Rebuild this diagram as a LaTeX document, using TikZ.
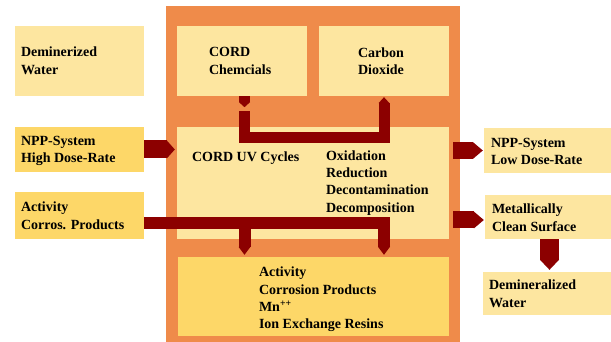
\documentclass[tikz,border=0pt]{standalone}
\usepackage{fontspec}
\setmainfont{Liberation Serif}
\usetikzlibrary{arrows.meta,positioning}

\definecolor{cordorange}{RGB}{239,139,74}
\definecolor{paleyellow}{RGB}{253,230,160}
\definecolor{deepyellow}{RGB}{253,215,104}
\definecolor{flowred}{RGB}{140,0,0}

\begin{document}
\begin{tikzpicture}[x=1pt,y=1pt,
  box/.style={fill=paleyellow,inner sep=0pt,minimum width=#1},
  hotbox/.style={box=#1,fill=deepyellow},
  lbl/.style={font=\fontsize{14}{17.3}\selectfont\bfseries,align=left,
    inner sep=0pt,anchor=north west},
  flow/.style={draw=flowred,line width=#1,line join=miter},
  headed/.style={-{Triangle[length=#1,width=0pt 1,line width=0pt]}}]
  \useasboundingbox (0,0) rectangle (611,342);
  % frame and boxes
  \node[fill=cordorange,inner sep=0pt,minimum width=294pt,minimum height=336pt] (frame) at (313,168) {};
  \node[box=129pt,minimum height=70pt] (dwL) at (79.5,281) {};
  \node[box=130pt,minimum height=70pt] (chem) at (242,281) {};
  \node[box=130pt,minimum height=70pt] (co2) at (384,281) {};
  \node[box=272pt,minimum height=112pt] (cycle) at (313,159) {};
  \node[hotbox=271pt,minimum height=79pt] (resin) at (313.5,45.5) {};
  \node[hotbox=129pt,minimum height=45pt] (npph) at (79.5,192.5) {};
  \node[hotbox=129pt,minimum height=47pt] (act) at (79.5,126.5) {};
  \node[box=127pt,minimum height=45pt] (nppl) at (547.5,191.5) {};
  \node[box=126pt,minimum height=44pt] (metal) at (548,125) {};
  \node[box=128pt,minimum height=43pt] (dwR) at (547,48.5) {};
  % texts
  \node[lbl] (dwLtxt) at ([shift={(6,-21)}]dwL.north west) {Deminerized\\Water};
  \node[lbl] (chemtxt) at ([shift={(32,-21.5)}]chem.north west) {CORD\\Chemcials};
  \node[lbl] (co2txt) at ([shift={(39,-21.5)}]co2.north west) {Carbon\\Dioxide};
  \node[lbl] (npphtxt) at ([shift={(6,-9)}]npph.north west) {NPP-System\\High Dose-Rate};
  \node[lbl] (acttxt) at ([shift={(6,-10)}]act.north west) {Activity\\Corros. Products};
  \node[lbl] (cycletxt) at ([shift={(15,-24.5)}]cycle.north west) {CORD UV Cycles};
  \node[lbl] (steptxt) at ([shift={(149,-23.5)}]cycle.north west) {Oxidation\\Reduction\\Decontamination\\Decomposition};
  \node[lbl] (resintxt) at ([shift={(81,-10)}]resin.north west) {Activity\\Corrosion Products\\Mn\textsuperscript{++}\\Ion Exchange Resins};
  \node[lbl] (nppltxt) at ([shift={(7,-10)}]nppl.north west) {NPP-System\\Low Dose-Rate};
  \node[lbl] (metaltxt) at ([shift={(7,-9)}]metal.north west) {Metallically\\Clean Surface};
  \node[lbl] (dwRtxt) at ([shift={(6,-8)}]dwR.north west) {Demineralized\\Water};
  % flows
  \coordinate (gapend) at ([shift={(2.5,-15)}]chem.south);
  \coordinate (tap) at ([yshift=-7.5pt]act.east);
  \draw[flow=18pt,headed=8pt] (npph.east) -- ([xshift=-2pt]npph.east -| cycle.west);
  \draw[flow=17pt,headed=10pt] ([xshift=4pt]cycle.east |- nppl.west) -- ([xshift=-1pt]nppl.west);
  \draw[flow=17pt,headed=10pt] ([shift={(4,-3)}]cycle.east |- metal.west) -- ([shift={(-1,-3)}]metal.west);
  \draw[flow=19pt,headed=10pt] ([xshift=1.5pt]metal.south) -- ([xshift=1.5pt,yshift=2pt]dwR.north -| metal.south);
  \draw[flow=11pt,headed=5pt] ([xshift=2.5pt]chem.south) -- ++(0,-11);
  \draw[flow=11pt,headed=6pt] (gapend) |- ([yshift=-41.5pt]co2.south) -- ([yshift=-1pt]co2.south);
  \draw[flow=12pt,headed=8pt] (tap) -| ([yshift=2pt]resin.north -| co2.south);
  \draw[flow=12pt,headed=8pt] (tap -| gapend) -- ([yshift=2pt]resin.north -| gapend);
\end{tikzpicture}
\end{document}
